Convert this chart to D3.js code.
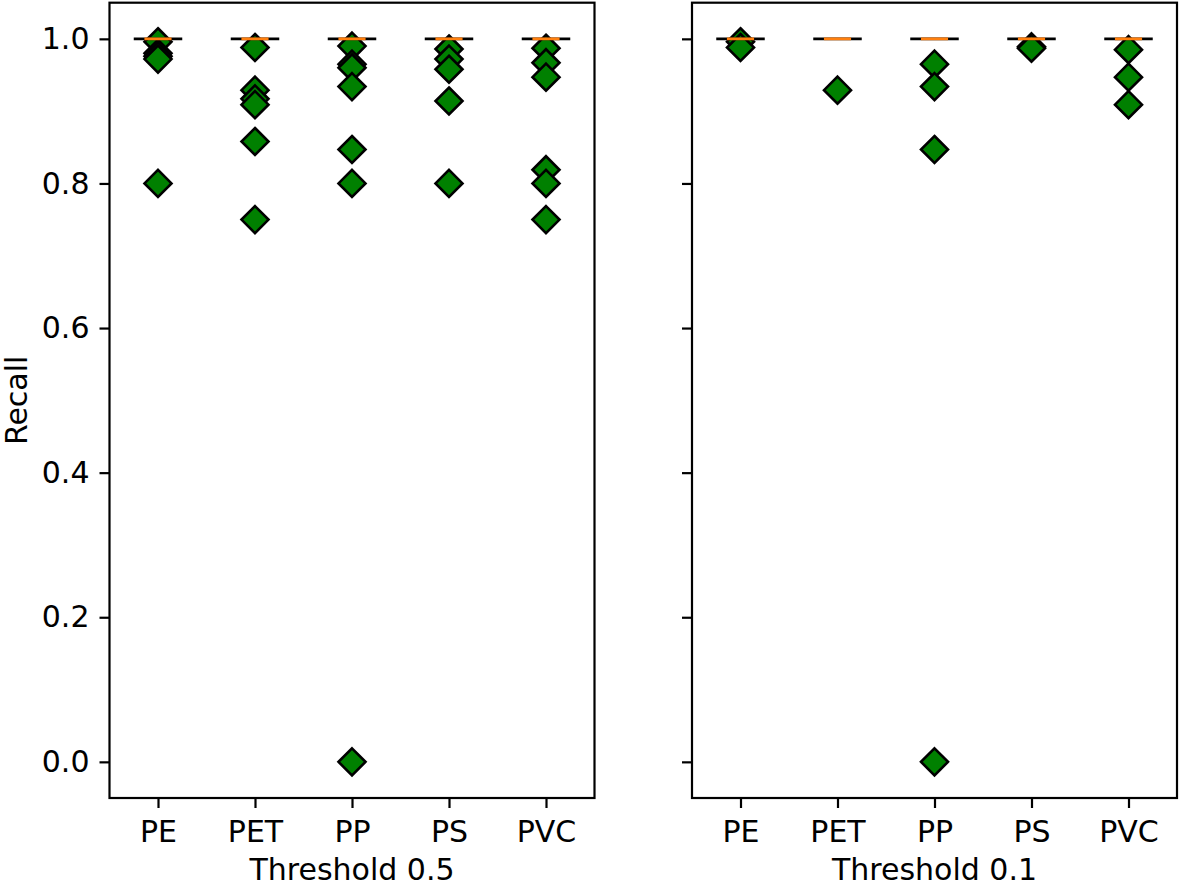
<!DOCTYPE html>
<html>
<head>
<meta charset="utf-8">
<script src="https://cdn.jsdelivr.net/npm/d3@7"></script>
<style>
  html, body { margin: 0; padding: 0; background: #fff; }
  svg { display: block; }
  text { font-family: "DejaVu Sans", sans-serif; fill: #000; }
</style>
</head>
<body>
<svg id="chart" width="1180" height="887"></svg>
<script>
// ---- data ----
const categories = ["PE", "PET", "PP", "PS", "PVC"];
const yTicks = [0.0, 0.2, 0.4, 0.6, 0.8, 1.0];
const panelTitles = ["Threshold 0.5", "Threshold 0.1"];
const medians05 = [1.0, 1.0, 1.0, 1.0, 1.0];
const medians01 = [1.0, 1.0, 1.0, 1.0, 1.0];
// outlier recall values per category
const outliers05 = [
  [0.996, 0.98, 0.976, 0.972, 0.8],
  [0.988, 0.929, 0.917, 0.909, 0.858, 0.75],
  [0.99, 0.965, 0.96, 0.934, 0.847, 0.8, 0.0],
  [0.986, 0.972, 0.958, 0.914, 0.8],
  [0.987, 0.967, 0.947, 0.819, 0.8, 0.75]
];
const outliers01 = [
  [0.996, 0.988],
  [0.929],
  [0.965, 0.934, 0.847, 0.0],
  [0.989, 0.987],
  [0.985, 0.947, 0.909]
];

// ---- layout ----
const svg = d3.select("#chart");
const plotTop = 2.7, plotBottom = 798;
const panels = [
  { left: 109.5, right: 594.5, title: panelTitles[0], medians: medians05, outliers: outliers05, showLabels: true },
  { left: 692, right: 1177, title: panelTitles[1], medians: medians01, outliers: outliers01, showLabels: false }
];
const y = d3.scaleLinear().domain([-0.05, 1.05]).range([plotBottom, plotTop]);
const fontSize = 30;

const diamond = r => `M0,${-r}L${r},0L0,${r}L${-r},0Z`;

panels.forEach(p => {
  const x = d3.scaleLinear().domain([0.5, 5.5]).range([p.left, p.right]);
  const g = svg.append("g");

  // outlier diamonds
  p.outliers.forEach((vals, i) => {
    g.selectAll(null).data(vals).enter().append("path")
      .attr("d", diamond(13.5))
      .attr("transform", d => `translate(${x(i + 1)},${y(d)})`)
      .attr("fill", "#008000")
      .attr("stroke", "#000")
      .attr("stroke-width", 2.6)
      .attr("stroke-linejoin", "miter");
  });

  // collapsed boxes (black) and medians (orange)
  const unit = x(2) - x(1);
  g.selectAll(null).data(p.medians).enter().append("line")
    .attr("x1", (d, i) => x(i + 1) - unit * 0.25)
    .attr("x2", (d, i) => x(i + 1) + unit * 0.25)
    .attr("y1", d => y(d)).attr("y2", d => y(d))
    .attr("stroke", "#000").attr("stroke-width", 2.8);
  g.selectAll(null).data(p.medians).enter().append("line")
    .attr("x1", (d, i) => x(i + 1) - unit * 0.14)
    .attr("x2", (d, i) => x(i + 1) + unit * 0.14)
    .attr("y1", d => y(d)).attr("y2", d => y(d))
    .attr("stroke", "#ff7f0e").attr("stroke-width", 2.8);

  // frame
  g.append("rect")
    .attr("x", p.left).attr("y", plotTop)
    .attr("width", p.right - p.left).attr("height", plotBottom - plotTop)
    .attr("fill", "none").attr("stroke", "#000").attr("stroke-width", 2.2);

  // x axis
  const xAxis = d3.axisBottom(x).tickValues([1, 2, 3, 4, 5])
    .tickFormat((d, i) => categories[i]).tickSize(10).tickPadding(13);
  const xa = g.append("g").attr("transform", `translate(0,${plotBottom})`).call(xAxis);
  xa.select(".domain").remove();
  xa.selectAll(".tick line").attr("stroke", "#000").attr("stroke-width", 2.2);
  xa.selectAll(".tick text").attr("font-size", fontSize)
    .attr("font-family", "DejaVu Sans").attr("fill", "#000").attr("dy", "0.71em");

  // y axis
  const yAxis = d3.axisLeft(y).tickValues(yTicks)
    .tickFormat(p.showLabels ? d3.format(".1f") : () => "")
    .tickSize(10).tickPadding(10);
  const ya = g.append("g").attr("transform", `translate(${p.left},0)`).call(yAxis);
  ya.select(".domain").remove();
  ya.selectAll(".tick line").attr("stroke", "#000").attr("stroke-width", 2.2);
  ya.selectAll(".tick text").attr("font-size", fontSize)
    .attr("font-family", "DejaVu Sans").attr("fill", "#000");

  // x label
  g.append("text")
    .attr("x", (p.left + p.right) / 2).attr("y", 880)
    .attr("text-anchor", "middle").attr("font-size", fontSize)
    .text(p.title);
});

// y label
svg.append("text")
  .attr("transform", `translate(27,${(plotTop + plotBottom) / 2}) rotate(-90)`)
  .attr("text-anchor", "middle").attr("font-size", fontSize)
  .text("Recall");
</script>
</body>
</html>
